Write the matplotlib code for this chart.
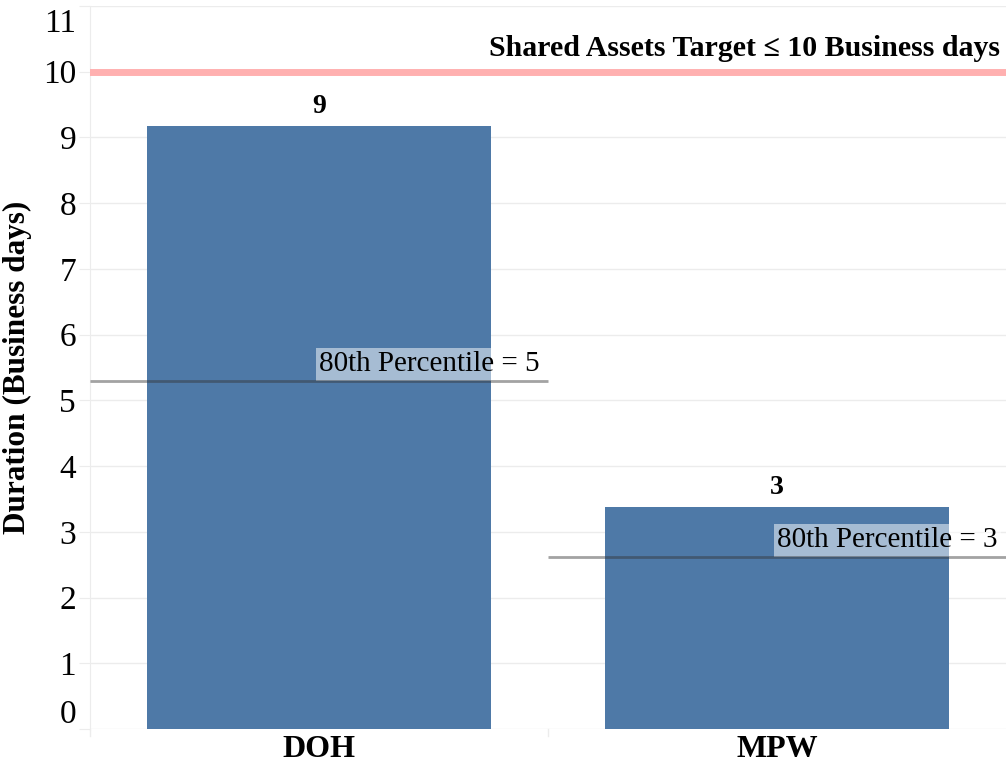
import numpy as np
import matplotlib
matplotlib.use("Agg")
from matplotlib import pyplot as plt
from matplotlib import transforms

# chart data
categories = ["DOH", "MPW"]
durations = [9.17, 3.38]
bar_labels = ["9", "3"]
percentile_80 = [5.3, 2.62]
percentile_labels = ["80th Percentile = 5", "80th Percentile = 3"]
target = 10
target_label = "Shared Assets Target \u2264 10 Business days"
y_ticks = list(range(12))

plt.rcParams["font.family"] = ["Liberation Serif", "DejaVu Serif"]

BAR_COLOR = "#4e79a7"
GRID_COLOR = "#ececec"

fig = plt.figure(figsize=(10.06, 7.66), dpi=100)
ax = fig.add_axes([90 / 1006, 37 / 766, 916 / 1006, 723 / 766])

x = np.arange(len(categories))
ax.bar(x, durations, width=0.75, color=BAR_COLOR, zorder=2)

# value labels above bars
for xi, v, lab in zip(x, durations, bar_labels):
    ax.annotate(lab, (xi, v), xytext=(0, 5), textcoords="offset points",
                ha="center", va="bottom", fontsize=20, fontweight="bold")

# 80th percentile reference lines across each band
for xi, p, lab in zip(x, percentile_80, percentile_labels):
    ax.plot([xi - 0.5, xi + 0.5], [p, p], color="#333333", alpha=0.45,
            lw=2, zorder=5, solid_capstyle="butt")
    ax.annotate(lab, (xi + 0.5, p), xytext=(-6, 2.5), textcoords="offset points",
                ha="right", va="bottom", fontsize=21, zorder=4,
                bbox=dict(boxstyle="square,pad=0.12", fc="white", ec="none", alpha=0.5))

# target line
ax.axhline(target, color="#ffb0b0", lw=5, zorder=3)
ax.annotate(target_label, (1.5, target), xytext=(-4, 7), textcoords="offset points",
            ha="right", va="bottom", fontsize=21.5, fontweight="bold")

ax.set_xlim(-0.5, 1.5)
ax.set_ylim(0, 11)
ax.set_yticks(y_ticks)
ax.set_yticklabels([str(t) for t in y_ticks])
ax.set_xticks(x)
ax.set_xticklabels(categories, fontsize=23, fontweight="bold")
ax.tick_params(axis="y", labelsize=24, length=8, color=GRID_COLOR, pad=2)
ax.tick_params(axis="x", length=0, pad=4)

# keep end labels inside the axis range
ylabels = ax.get_yticklabels()
ylabels[0].set_transform(ylabels[0].get_transform() + transforms.ScaledTranslation(0, 13 / 72, fig.dpi_scale_trans))
ylabels[-1].set_transform(ylabels[-1].get_transform() + transforms.ScaledTranslation(0, -10 / 72, fig.dpi_scale_trans))

ax.grid(axis="y", color=GRID_COLOR, lw=1, zorder=0)
for s in ["top", "right", "bottom"]:
    ax.spines[s].set_visible(False)
ax.spines["left"].set_color(GRID_COLOR)

# band separators below the axis
for bx in [-0.5, 0.5]:
    ax.plot([bx, bx], [0, -0.1], color=GRID_COLOR, lw=1, clip_on=False)

ax.set_ylabel("Duration (Business days)", fontsize=22.5, fontweight="bold", labelpad=8)

fig.savefig("out.png", dpi=100)
